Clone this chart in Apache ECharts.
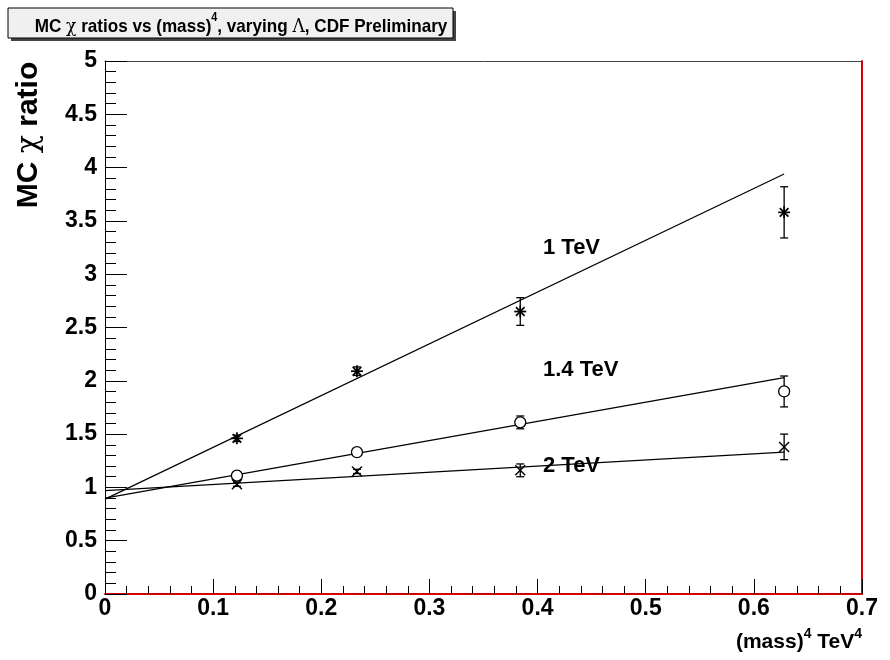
<!DOCTYPE html>
<html>
<head>
<meta charset="utf-8">
<script src="https://cdn.jsdelivr.net/npm/echarts@6/dist/echarts.min.js"></script>
<style>html,body{margin:0;padding:0;background:#fff;}#main{width:890px;height:660px;}</style>
</head>
<body>
<div id="main"></div>
<script>
// ---- data ----
const massX = [0.122, 0.233, 0.384, 0.628];
const ratio1TeV = [1.46, 2.09, 2.65, 3.58];
const err1TeV = [0.03, 0.04, 0.13, 0.24];
const ratio14TeV = [1.11, 1.33, 1.61, 1.90];
const err14TeV = [0.02, 0.03, 0.06, 0.145];
const ratio2TeV = [1.03, 1.15, 1.16, 1.38];
const err2TeV = [0.02, 0.02, 0.06, 0.12];
// fit lines: value at x start / end
const fitX = [0, 0.628];
const fit1TeV = [0.89, 3.94];
const fit14TeV = [0.90, 2.03];
const fit2TeV = [0.97, 1.33];
// curve labels (data coords)
const curveLabels = ['1 TeV', '1.4 TeV', '2 TeV'];
const labelX = [0.405, 0.405, 0.405];
const labelY = [3.25, 2.10, 1.20];
const xTicks = [0, 0.1, 0.2, 0.3, 0.4, 0.5, 0.6, 0.7];
const yTicks = [0, 0.5, 1, 1.5, 2, 2.5, 3, 3.5, 4, 4.5, 5];

const FONT = '"Liberation Sans", Arial, sans-serif';
const chart = echarts.init(document.getElementById('main'), null, {renderer: 'canvas'});

function errSeries(name, vals, errs, marker) {
  return {
    name: name,
    type: 'custom',
    z: 5,
    data: massX.map((x, i) => [x, vals[i], errs[i]]),
    renderItem: function (params, api) {
      const x = api.value(0), y = api.value(1), e = api.value(2);
      const p = api.coord([x, y]);
      const t = api.coord([x, y + e]);
      const b = api.coord([x, y - e]);
      const st = {stroke: '#000', lineWidth: 1.3, fill: null};
      const ch = [];
      ch.push({type: 'line', shape: {x1: p[0], y1: t[1], x2: p[0], y2: b[1]}, style: st});
      ch.push({type: 'line', shape: {x1: p[0] - 4, y1: t[1], x2: p[0] + 4, y2: t[1]}, style: st});
      ch.push({type: 'line', shape: {x1: p[0] - 4, y1: b[1], x2: p[0] + 4, y2: b[1]}, style: st});
      const r = 6;
      if (marker === 'star') {
        const d = r * 0.72;
        const s2 = {stroke: '#000', lineWidth: 1.7};
        ch.push({type: 'line', shape: {x1: p[0] - r, y1: p[1], x2: p[0] + r, y2: p[1]}, style: s2});
        ch.push({type: 'line', shape: {x1: p[0], y1: p[1] - r, x2: p[0], y2: p[1] + r}, style: s2});
        ch.push({type: 'line', shape: {x1: p[0] - d, y1: p[1] - d, x2: p[0] + d, y2: p[1] + d}, style: s2});
        ch.push({type: 'line', shape: {x1: p[0] - d, y1: p[1] + d, x2: p[0] + d, y2: p[1] - d}, style: s2});
      } else if (marker === 'circle') {
        ch.push({type: 'circle', shape: {cx: p[0], cy: p[1], r: 5.5}, style: {stroke: '#000', lineWidth: 1.3, fill: '#fff'}});
      } else {
        const d = 5;
        ch.push({type: 'line', shape: {x1: p[0] - d, y1: p[1] - d, x2: p[0] + d, y2: p[1] + d}, style: {stroke: '#000', lineWidth: 1.4}});
        ch.push({type: 'line', shape: {x1: p[0] - d, y1: p[1] + d, x2: p[0] + d, y2: p[1] - d}, style: {stroke: '#000', lineWidth: 1.4}});
      }
      return {type: 'group', children: ch};
    }
  };
}

function fitSeries(name, vals) {
  return {
    name: name + ' fit',
    type: 'line',
    z: 4,
    symbol: 'none',
    silent: true,
    data: fitX.map((x, i) => [x, vals[i]]),
    lineStyle: {color: '#000', width: 1.2}
  };
}

const labelSeries = {
  type: 'custom',
  z: 6,
  data: curveLabels.map((t, i) => [labelX[i], labelY[i], t]),
  renderItem: function (params, api) {
    const p = api.coord([api.value(0), api.value(1)]);
    return {
      type: 'text',
      x: p[0], y: p[1],
      style: {text: curveLabels[params.dataIndex], font: 'bold 22px ' + FONT, fill: '#000', textAlign: 'left', textVerticalAlign: 'middle'}
    };
  }
};

const option = {
  backgroundColor: '#fff',
  animation: false,
  grid: {left: 105, right: 28, top: 61, bottom: 66, containLabel: false},
  xAxis: [
    {
      type: 'value', position: 'bottom', min: 0, max: 0.7, interval: 0.1,
      axisLine: {show: true, onZero: false, lineStyle: {color: '#d40000', width: 2}},
      axisTick: {show: true, inside: true, length: 15, lineStyle: {color: '#000', width: 1}},
      minorTick: {show: true, splitNumber: 5, length: 8, lineStyle: {color: '#000', width: 1}},
      splitLine: {show: false}, minorSplitLine: {show: false},
      axisLabel: {color: '#000', fontFamily: FONT, fontWeight: 'bold', fontSize: 23, margin: 3,
        formatter: v => (v === 0 ? '0' : v.toFixed(1))}
    },
    {
      type: 'value', position: 'top', min: 0, max: 0.7,
      axisLine: {show: true, onZero: false, lineStyle: {color: '#444', width: 1}},
      axisTick: {show: false}, axisLabel: {show: false}, splitLine: {show: false}
    }
  ],
  yAxis: [
    {
      type: 'value', position: 'left', min: 0, max: 5, interval: 0.5,
      axisLine: {show: true, onZero: false, lineStyle: {color: '#000', width: 1}},
      axisTick: {show: true, inside: true, length: 22, lineStyle: {color: '#000', width: 1}},
      minorTick: {show: true, splitNumber: 5, length: 11, lineStyle: {color: '#000', width: 1}},
      splitLine: {show: false}, minorSplitLine: {show: false},
      axisLabel: {color: '#000', fontFamily: FONT, fontWeight: 'bold', fontSize: 23, margin: 8,
        formatter: v => String(v)}
    },
    {
      type: 'value', position: 'right', min: 0, max: 5,
      axisLine: {show: true, onZero: false, lineStyle: {color: '#d40000', width: 2}},
      axisTick: {show: false}, axisLabel: {show: false}, splitLine: {show: false}
    }
  ],
  graphic: [
    {type: 'rect', shape: {x: 11, y: 11, width: 445, height: 30}, style: {fill: '#444'}, z: 10},
    {type: 'rect', shape: {x: 8, y: 8, width: 445, height: 30}, style: {fill: '#f0f0f0', stroke: '#000', lineWidth: 1}, z: 11},
    {
      type: 'text', x: 241, y: 24, z: 12, scaleX: 0.9,
      style: {
        text: '{b|MC }{g|χ}{b| ratios vs (mass)}{s|4}{b|, varying }{g|Λ}{b|, CDF Preliminary}',
        textAlign: 'center', textVerticalAlign: 'middle',
        rich: {
          b: {font: 'bold 19px ' + FONT, fill: '#000', lineHeight: 25, verticalAlign: 'bottom'},
          g: {font: '19px "DejaVu Serif", serif', fill: '#000', lineHeight: 25, verticalAlign: 'bottom'},
          s: {font: 'bold 12px ' + FONT, fill: '#000', lineHeight: 25, verticalAlign: 'top'}
        }
      }
    },
    {
      type: 'text', x: 29, y: 135, rotation: Math.PI / 2, z: 12,
      style: {
        text: '{b|MC }{g|χ}{b| ratio}',
        textAlign: 'center', textVerticalAlign: 'middle',
        rich: {
          b: {font: 'bold 30px ' + FONT, fill: '#000'},
          g: {font: '30px "DejaVu Serif", serif', fill: '#000'}
        }
      }
    },
    {
      type: 'text', x: 862, y: 640, z: 12,
      style: {
        text: '{b|(mass)}{s|4}{b| TeV}{s|4}',
        textAlign: 'right', textVerticalAlign: 'middle',
        rich: {
          b: {font: 'bold 21px ' + FONT, fill: '#000', lineHeight: 26, verticalAlign: 'bottom'},
          s: {font: 'bold 14px ' + FONT, fill: '#000', lineHeight: 26, verticalAlign: 'top'}
        }
      }
    }
  ],
  series: [
    fitSeries('1 TeV', fit1TeV),
    fitSeries('1.4 TeV', fit14TeV),
    fitSeries('2 TeV', fit2TeV),
    errSeries('1 TeV', ratio1TeV, err1TeV, 'star'),
    errSeries('1.4 TeV', ratio14TeV, err14TeV, 'circle'),
    errSeries('2 TeV', ratio2TeV, err2TeV, 'cross'),
    labelSeries
  ]
};
chart.setOption(option);
</script>
</body>
</html>
